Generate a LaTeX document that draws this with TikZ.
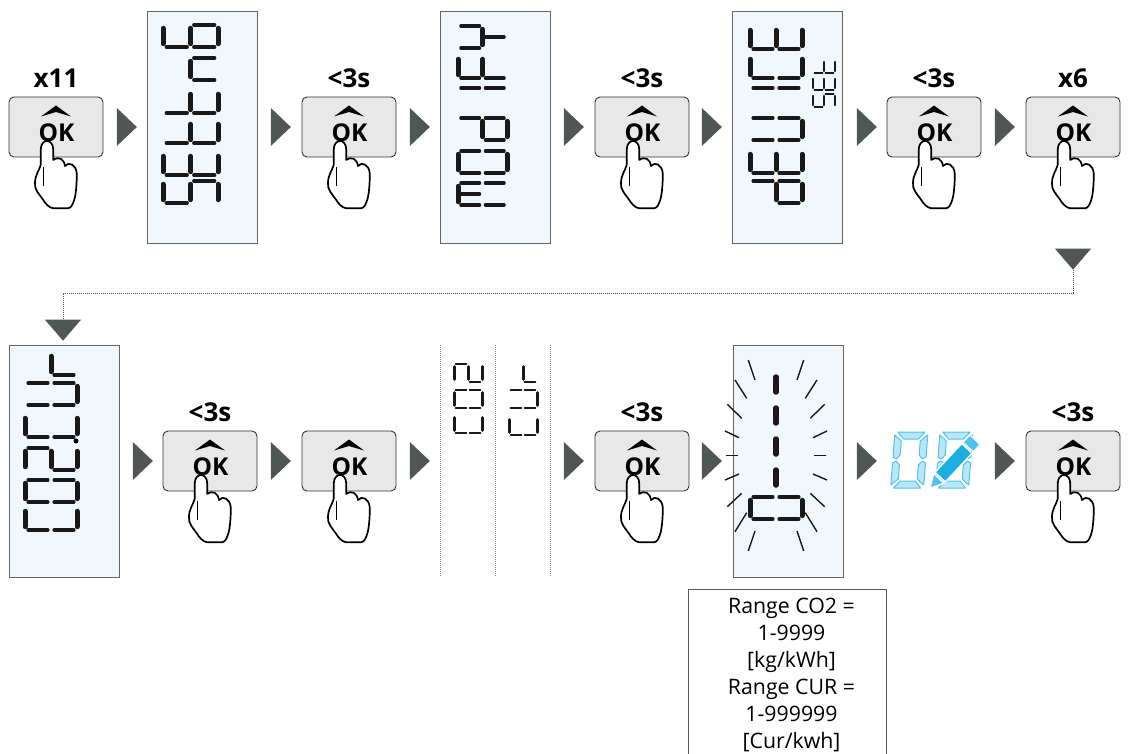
\documentclass[tikz,border=0pt]{standalone}
\usepackage{fontspec}
\setmainfont{Open Sans}
\usetikzlibrary{positioning,shapes.geometric}

% LCD segments, x runs along the character and y up the character
\newcommand{\sega}{[lcdbar] (.15,2) -- (.85,2)}
\newcommand{\segg}{[lcdbar] (.15,1) -- (.85,1)}
\newcommand{\segd}{[lcdbar] (.15,0) -- (.85,0)}
\newcommand{\segf}{(0,1.12) -- (0,1.88)}
\newcommand{\sege}{(0,.12) -- (0,.88)}
\newcommand{\segb}{(1,1.12) -- (1,1.88)}
\newcommand{\segc}{(1,.12) -- (1,.88)}
\newcommand{\segh}{(.5,1.12) -- (.5,1.88)}
\newcommand{\segl}{(.5,.12) -- (.5,.88)}
\newcommand{\lcdchar}[3]{%
  \begin{scope}[shift={(#2)},#1,line cap=round,black!90]
    \foreach \s in {#3} {\draw \csname seg\s\endcsname;}
  \end{scope}}

\tikzset{
  pics/okpress/.style={code={
    \node[okbox] (-box) at (47,30) {};
    \fill (32,19.5) -- (47,8.5) -- (62,19.5) -- (47,15) -- cycle;
    \node[oktext] (-ok) at (47.5,36) {OK};
    \draw[handline] (31.7,68) -- (31.7,53) .. controls (31.7,41) and (44.3,41) .. (44.3,53)
      -- (44.3,63) .. controls (50,59) and (55,62) .. (56,69) .. controls (60,64) and (67,68) .. (67.7,76)
      .. controls (68,85) and (67,95) .. (66,100) .. controls (64,108) and (62,111) .. (59,111.3) -- (44.3,111.3)
      .. controls (40,111) and (36,106) .. (34.3,103) .. controls (30,97) and (25,92) .. (26,86)
      .. controls (26,78) and (30,74) .. (31.7,68);
    \draw[line width=1pt] (34.3,70) -- (34.3,89);
  }},
  pics/bluezero/.style={code={
    \begin{scope}[xslant=.08,blueseg]
      \filldraw (3,0) -- (30,0) -- (24,7) -- (9,7) -- cycle;
      \filldraw (3,56) -- (30,56) -- (24,49) -- (9,49) -- cycle;
      \filldraw (0,3) -- (7,9) -- (7,23) -- (3.5,27) -- (0,25) -- cycle;
      \filldraw (0,53) -- (7,47) -- (7,33) -- (3.5,29) -- (0,31) -- cycle;
      \filldraw (33,3) -- (26,9) -- (26,23) -- (29.5,27) -- (33,25) -- cycle;
      \filldraw (33,53) -- (26,47) -- (26,33) -- (29.5,29) -- (33,31) -- cycle;
    \end{scope}
  }}
}

\begin{document}
\begin{tikzpicture}[x=1pt,y=-1pt]
  % Node style
  \tikzstyle{panel} = [rectangle, draw=black!60, line width=.9pt, fill=lcdblue, minimum width=110pt, minimum height=232pt, inner sep=0pt]
  \tikzstyle{okbox} = [rectangle, draw=black!80, line width=.9pt, fill=black!9, rounded corners=5pt, minimum width=94pt, minimum height=60pt, inner sep=0pt]
  \tikzstyle{oktext} = [font=\fontsize{24.5}{24.5}\selectfont\bfseries, inner sep=0pt]
  \tikzstyle{handline} = [draw=black, fill=white, line width=1.7pt, line join=round]
  \tikzstyle{steplabel} = [font=\fontsize{26}{26}\selectfont\bfseries, inner sep=0pt]
  \tikzstyle{flowmark} = [isosceles triangle, isosceles triangle apex angle=88, isosceles triangle stretches, fill=markgrey, minimum width=38pt, minimum height=20pt, inner sep=0pt]
  \tikzstyle{turnmark} = [flowmark, shape border rotate=-90, minimum width=36pt, minimum height=21pt]
  \tikzstyle{blueseg} = [draw=lcdcyan, fill=lcdcyan!40, line width=1pt, line join=round]
  \tikzstyle{rangebox} = [rectangle, draw=black!65, line width=.8pt, minimum width=198pt, minimum height=172pt, anchor=north, inner sep=0pt]
  \tikzstyle{rangetext} = [align=center, anchor=north, inner sep=0pt, font=\fontsize{21.3}{27}\selectfont]
  \tikzstyle{lcdbig} = [x={(0pt,22pt)}, y={(-27.5pt,0pt)}, line width=3.4pt, lcdbar/.style={line width=5pt}]
  \tikzstyle{lcdmid} = [x={(0pt,22pt)}, y={(-24.5pt,0pt)}, line width=3.4pt, lcdbar/.style={line width=5pt}]
  \tikzstyle{lcdside} = [x={(0pt,13pt)}, y={(-11pt,0pt)}, line width=1.5pt, lcdbar/.style={line width=2.2pt}]
  \tikzstyle{lcdsmall} = [x={(0pt,18pt)}, y={(-14pt,0pt)}, line width=2pt, lcdbar/.style={line width=3pt}]
  \tikzstyle{lcdflash} = [x={(0pt,22pt)}, y={(-26pt,0pt)}, line width=3.4pt, lcdbar/.style={line width=5pt}]
  \definecolor{lcdblue}{HTML}{F0F8FE}
  \definecolor{markgrey}{HTML}{4F5654}
  \definecolor{lcdcyan}{HTML}{4FC3EE}
  \definecolor{pencilblue}{HTML}{1CAEE0}

  \useasboundingbox (0,0) rectangle (1130,754);

  % Panels
  \node[panel] (setting) at (202,127) {};
  \node[panel] (modify) at (495,127) {};
  \node[panel] (device) at (787,127) {};
  \node[panel] (cocur) at (64,461) {};
  \node[panel] (flash) at (788,461) {};

  % Buttons
  \pic (okone) at (9,97) {okpress};
  \pic (oktwo) at (302,97) {okpress};
  \pic (okthree) at (595,97) {okpress};
  \pic (okfour) at (887,97) {okpress};
  \pic (okfive) at (1026,97) {okpress};
  \pic (oksix) at (163,431) {okpress};
  \pic (okseven) at (302,431) {okpress};
  \pic (okeight) at (595,431) {okpress};
  \pic (oknine) at (1026,431) {okpress};

  \node[steplabel, above=9pt of okone-box] (labone) {x11};
  \node[steplabel, above=9pt of oktwo-box] (labtwo) {<3s};
  \node[steplabel, above=9pt of okthree-box] (labthree) {<3s};
  \node[steplabel, above=9pt of okfour-box] (labfour) {<3s};
  \node[steplabel, above=9pt of okfive-box] (labfive) {x6};
  \node[steplabel, above=9pt of oksix-box] (labsix) {<3s};
  \node[steplabel, above=9pt of okeight-box] (labeight) {<3s};
  \node[steplabel, above=9pt of oknine-box] (labnine) {<3s};

  % Step marks
  \foreach \x [count=\i] in {125,279,418,572,710,865,1003} {
    \node[flowmark] (upper\i) at (\x,127) {};
  }
  \foreach \x [count=\i] in {141,279,418,572,710,865,1003} {
    \node[flowmark] (lower\i) at (\x,461) {};
  }
  \node[turnmark] (turnout) at (1073,257) {};
  \node[turnmark] (turnin) at (63,328) {};
  \draw[densely dotted, black!70, line width=1pt] (turnout.apex) -- ++(0,23) -| (turnin.lower side);

  % LCD text
  \lcdchar{lcdbig}{218,203}{a,f,g,c,d}
  \lcdchar{lcdbig}{218,175}{a,f,g,e,d}
  \lcdchar{lcdbig}{218,143}{f,e,g,d}
  \lcdchar{lcdbig}{218,113}{f,e,g,d}
  \lcdchar{lcdbig}{218,80}{e,c,g}
  \lcdchar{lcdbig}{218,47}{a,f,e,d,c,g}

  \lcdchar{lcdmid}{507,205}{a,f,e,h,b,c}
  \lcdchar{lcdmid}{507,173}{a,b,c,d,e,f}
  \lcdchar{lcdmid}{507,140}{b,c,d,e,g}
  \lcdchar{lcdmid}{507,88}{e,f}
  \lcdchar{lcdmid}{507,78}{a,f,e,g}
  \lcdchar{lcdmid}{507,48}{f,b,g,l}

  \lcdchar{lcdflash}{802,203}{b,c,d,e,g}
  \lcdchar{lcdflash}{802,173}{a,f,g,e,d}
  \lcdchar{lcdflash}{802,140}{b,c,d,e,f}
  \lcdchar{lcdflash}{802,88}{e,f}
  \lcdchar{lcdflash}{802,78}{a,f,e,d}
  \lcdchar{lcdflash}{802,49}{a,f,g,e,d}

  \lcdchar{lcdside}{835,107}{a,f,g,c,d}
  \lcdchar{lcdside}{835,90}{a,f,g,e,d}
  \lcdchar{lcdside}{835,73}{f,e,g,d}

  \lcdchar{lcdflash}{77,530}{a,f,e,d}
  \lcdchar{lcdflash}{77,502}{a,b,c,d,e,f}
  \lcdchar{lcdflash}{77,470}{a,b,g,e,d}
  \fill (76,441) circle (2.5);
  \lcdchar{lcdflash}{77,437}{a,f,e,d}
  \lcdchar{lcdflash}{77,405}{f,e,d,c,b}
  \lcdchar{lcdflash}{77,375}{g,e}

  % Dotted columns
  \foreach \x in {440,495,550} {
    \draw[densely dotted, black!45, line width=1pt] (\x,345) -- (\x,577);
  }
  \lcdchar{lcdsmall}{482,433}{a,f,e,d}
  \lcdchar{lcdsmall}{482,408}{a,b,c,d,e,f}
  \lcdchar{lcdsmall}{482,382}{a,b,g,e,d}
  \lcdchar{lcdsmall}{537,435}{a,f,e,d}
  \lcdchar{lcdsmall}{537,408}{f,e,d,c,b}
  \lcdchar{lcdsmall}{537,382}{g,e}

  % Flashing value
  \foreach \y in {375,406,437,468} {
    \draw[line width=5.5pt, line cap=round, black!90] (776,\y+2) -- (776,\y+17);
  }
  \lcdchar{lcdflash}{802,519}{a,b,c,d,e,f}
  \foreach \a/\b/\c/\d in {27.7/360/21/380, 41/380/29.3/398.3, 48.7/404.3/34.3/418.3, 51/431/37/437.7, 50.3/455.7/37.7/455.7, 51/480/37/474, 48.7/506.7/34.3/493.3, 41/531.7/29.3/512.7, 27.7/551/21/531} {
    \draw[line width=1.4pt, black!90] (776-\a,\b) -- (776-\c,\d);
    \draw[line width=1.4pt, black!90] (776+\a,\b) -- (776+\c,\d);
  }

  % Edit symbol
  \pic (zeroone) at (895,432) {bluezero};
  \pic (zerotwo) at (940,432) {bluezero};
  \begin{scope}[shift={(930,488)},rotate=47]
    \filldraw[fill=lcdcyan, draw=white, line width=1.2pt] (0,0) -- (13,-7) -- (13,7) -- cycle;
    \filldraw[fill=pencilblue, draw=white, line width=1.2pt] (15,-7) -- (54,-7) -- (54,7) -- (15,7) -- cycle;
    \filldraw[fill=lcdcyan, draw=white, line width=1.2pt] (56,-7) -- (66,-7) -- (66,7) -- (56,7) -- cycle;
  \end{scope}

  % Range note
  \node[rangebox] (range) at (787.5,589) {};
  \node[rangetext, xshift=4pt, yshift=-9pt] (rangetext) at (range.north) {Range CO2 =\\1-9999\\{}[kg/kWh]\\Range CUR =\\1-999999\\{}[Cur/kwh]};
\end{tikzpicture}
\end{document}
